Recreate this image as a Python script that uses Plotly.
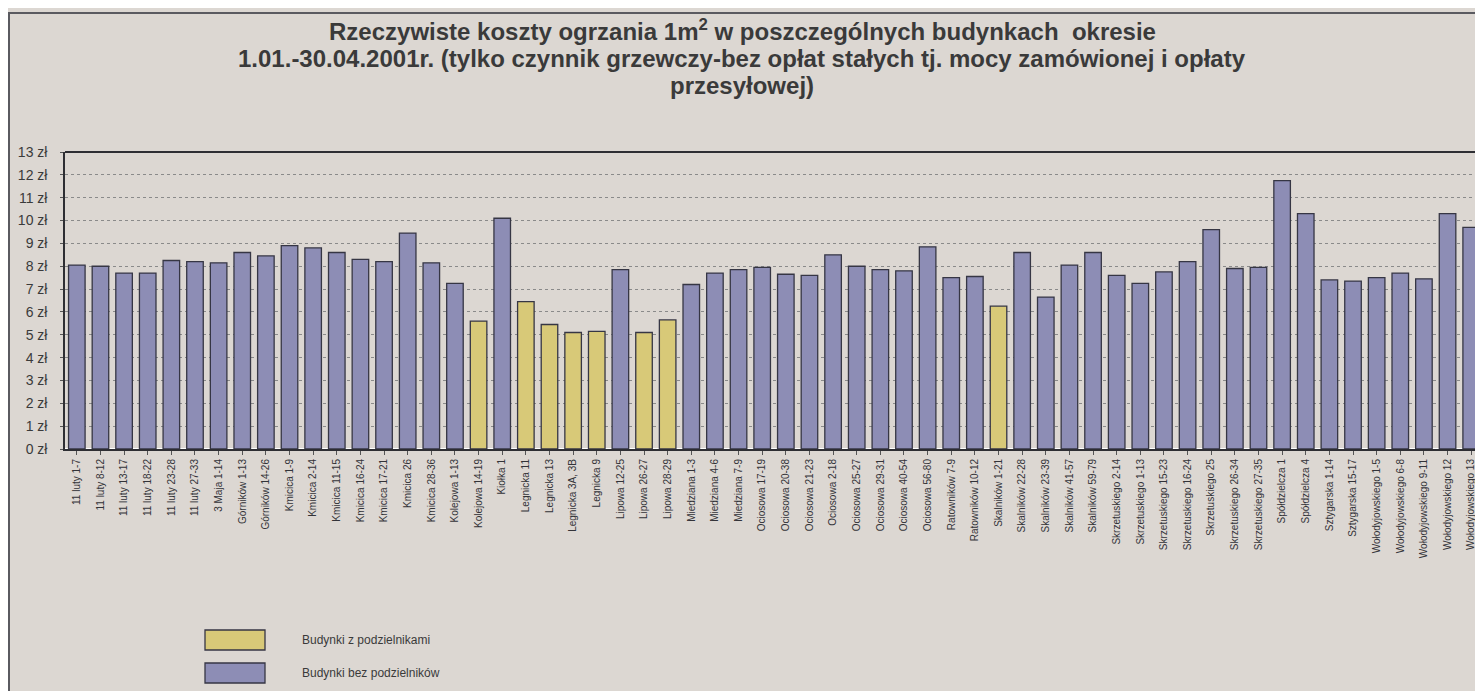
import plotly.graph_objects as go

categories = [
    "11 luty 1-7", "11 luty 8-12", "11 luty 13-17", "11 luty 18-22", "11 luty 23-28",
    "11 luty 27-33", "3 Maja 1-14", "Górników 1-13", "Górników 14-26", "Kmicica 1-9",
    "Kmicica 2-14", "Kmicica 11-15", "Kmicica 16-24", "Kmicica 17-21", "Kmicica 26",
    "Kmicica 28-36", "Kolejowa 1-13", "Kolejowa 14-19", "Kiołka 1", "Legnicka 11",
    "Legnicka 13", "Legnicka 3A, 3B", "Legnicka 9", "Lipowa 12-25", "Lipowa 26-27",
    "Lipowa 28-29", "Miedziana 1-3", "Miedziana 4-6", "Miedziana 7-9", "Ociosowa 17-19",
    "Ociosowa 20-38", "Ociosowa 21-23", "Ociosowa 2-18", "Ociosowa 25-27", "Ociosowa 29-31",
    "Ociosowa 40-54", "Ociosowa 56-80", "Ratowników 7-9", "Ratowników 10-12", "Skalników 1-21",
    "Skalników 22-28", "Skalników 23-39", "Skalników 41-57", "Skalników 59-79", "Skrzetuskiego 2-14",
    "Skrzetuskiego 1-13", "Skrzetuskiego 15-23", "Skrzetuskiego 16-24", "Skrzetuskiego 25", "Skrzetuskiego 26-34",
    "Skrzetuskiego 27-35", "Spółdzielcza 1", "Spółdzielcza 4", "Sztygarska 1-14", "Sztygarska 15-17",
    "Wołodyjowskiego 1-5", "Wołodyjowskiego 6-8", "Wołodyjowskiego 9-11", "Wołodyjowskiego 12", "Wołodyjowskiego 13",
]

costs = [
    8.05, 8.0, 7.7, 7.7, 8.25, 8.2, 8.15, 8.6, 8.45, 8.9,
    8.8, 8.6, 8.3, 8.2, 9.45, 8.15, 7.25, 5.6, 10.1, 6.45,
    5.45, 5.1, 5.15, 7.85, 5.1, 5.65, 7.2, 7.7, 7.85, 7.95,
    7.65, 7.6, 8.5, 8.0, 7.85, 7.8, 8.85, 7.5, 7.55, 6.25,
    8.6, 6.65, 8.05, 8.6, 7.6, 7.25, 7.75, 8.2, 9.6, 7.9,
    7.95, 11.75, 10.3, 7.4, 7.35, 7.5, 7.7, 7.45, 10.3, 9.7,
]

# True = building with heat-cost allocators (yellow)
with_allocators = [
    False, False, False, False, False, False, False, False, False, False,
    False, False, False, False, False, False, False, True, False, True,
    True, True, True, False, True, True, False, False, False, False,
    False, False, False, False, False, False, False, False, False, True,
    False, False, False, False, False, False, False, False, False, False,
    False, False, False, False, False, False, False, False, False, False,
]

series_names = ["Budynki z podzielnikami", "Budynki bez podzielników"]
title_lines = [
    "Rzeczywiste koszty ogrzania 1m<sup>2</sup> w poszczególnych budynkach  okresie",
    "1.01.-30.04.2001r. (tylko czynnik grzewczy-bez opłat stałych tj. mocy zamówionej i opłaty",
    "przesyłowej)",
]
y_ticks = list(range(0, 14))
y_tick_labels = [f"{v} zł" for v in y_ticks]

YELLOW = "#d8c978"
BLUE = "#8d8db5"
EDGE = "#363644"
PAPER = "#dcd7d2"
TEXT = "#333338"

W, H = 1483, 691
L, T, R, B = 57, 144, 8, 250
PW, PH = W - L - R, H - T - B


def px(fx):
    return (fx - L) / PW


def py(fy):
    return (H - B - fy) / PH


yellow_vals = [c if w else None for c, w in zip(costs, with_allocators)]
blue_vals = [None if w else c for c, w in zip(costs, with_allocators)]

fig = go.Figure()
fig.add_trace(go.Bar(x=categories, y=yellow_vals, name=series_names[0],
                     marker=dict(color=YELLOW, line=dict(color=EDGE, width=1.3)),
                     showlegend=False))
fig.add_trace(go.Bar(x=categories, y=blue_vals, name=series_names[1],
                     marker=dict(color=BLUE, line=dict(color=EDGE, width=1.3)),
                     showlegend=False))

fig.update_layout(
    width=W, height=H,
    paper_bgcolor=PAPER, plot_bgcolor=PAPER,
    margin=dict(l=L, r=R, t=T, b=B),
    barmode="overlay", bargap=0.3,
    font=dict(family="Liberation Sans, Arial, sans-serif", color=TEXT),
)
fig.update_xaxes(
    type="category", range=[-0.5, 59.5], tickangle=-90,
    tickfont=dict(size=10, family="Liberation Sans Narrow, Liberation Sans, Arial", color=TEXT),
    showline=True, linecolor="#2e2e33", linewidth=2, mirror=False,
    ticks="outside", ticklen=4, tickcolor="#555", showgrid=False,
)
fig.update_yaxes(
    range=[0, 13], tickvals=y_ticks, ticktext=y_tick_labels,
    tickfont=dict(size=14, color="#3a3a3a"),
    ticklabelstandoff=10,
    showgrid=True, gridcolor="#8a8a8a", griddash="dot", gridwidth=1,
    showline=True, linecolor="#2e2e33", linewidth=1.5,
    ticks="outside", ticklen=3, tickcolor="#555",
)

# title, one annotation per line
for text, fy in zip(title_lines, [22, 50, 78]):
    fig.add_annotation(xref="paper", yref="paper", x=px(734), y=py(fy), text=text,
                       showarrow=False, xanchor="center", yanchor="middle",
                       font=dict(size=24, color="#3a3a3a", weight="bold"))

# top border of plot area
fig.add_shape(type="line", xref="paper", yref="paper", x0=0, x1=1, y0=1, y1=1,
              line=dict(color="#2e2e33", width=2))
# page lines: top and left frame
fig.add_shape(type="line", xref="paper", yref="paper", x0=px(0), x1=px(W), y0=py(5), y1=py(5),
              line=dict(color="#5a5a60", width=2))
fig.add_shape(type="line", xref="paper", yref="paper", x0=px(1), x1=px(1), y0=py(5), y1=py(H),
              line=dict(color="#5a5a60", width=2))

# legend drawn as boxes with labels
for i, (name, col) in enumerate(zip(series_names, [YELLOW, BLUE])):
    y_top = 622 + i * 33
    fig.add_shape(type="rect", xref="paper", yref="paper",
                  x0=px(197), x1=px(257), y0=py(y_top + 20), y1=py(y_top),
                  fillcolor=col, line=dict(color=EDGE, width=1.3))
    fig.add_annotation(xref="paper", yref="paper", x=px(292), y=py(y_top + 10), text=name,
                       showarrow=False, xanchor="left", yanchor="middle",
                       font=dict(size=12, color="#3a3a3a"))

fig.write_html("out.html")
